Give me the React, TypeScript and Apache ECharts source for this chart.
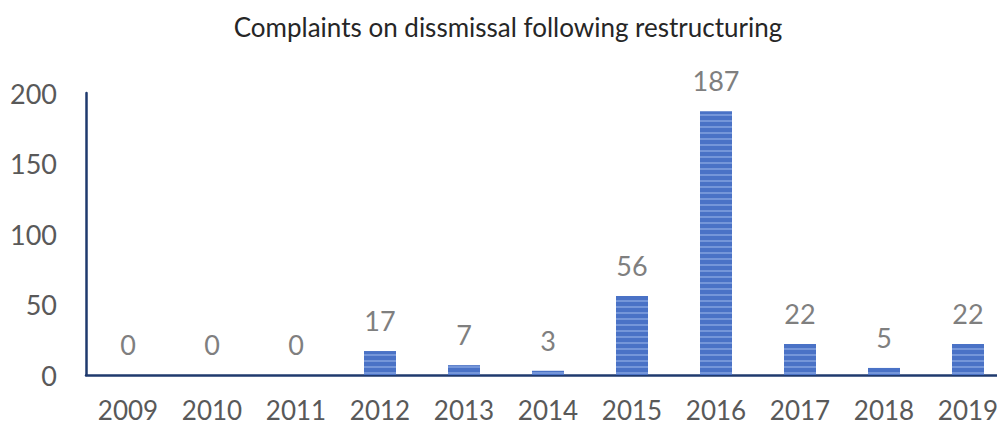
import React, { useEffect, useRef } from "react";
import * as echarts from "echarts";

const years = ["2009", "2010", "2011", "2012", "2013", "2014", "2015", "2016", "2017", "2018", "2019"];
const complaints = [0, 0, 0, 17, 7, 3, 56, 187, 22, 5, 22];
const yTicks = [0, 50, 100, 150, 200];

const FONT = "Lato, 'Open Sans', sans-serif";
const NAVY = "#1f3a6e";

export default function App() {
  const ref = useRef<HTMLDivElement>(null);

  useEffect(() => {
    if (!ref.current) return;
    const chart = echarts.init(ref.current, undefined, { renderer: "svg" });
    chart.setOption({
      animation: false,
      backgroundColor: "#ffffff",
      textStyle: { fontFamily: FONT },
      title: {
        text: "Complaints on dissmissal following restructuring",
        left: 503,
        textAlign: "center",
        top: 9,
        textStyle: { fontFamily: FONT, fontSize: 26, fontWeight: "normal", color: "#262626" },
      },
      // plot area runs slightly past the visible right edge
      grid: { left: 86, right: 0, top: 93, bottom: 52, containLabel: false },
      xAxis: {
        type: "category",
        data: years,
        axisLine: { show: true, lineStyle: { color: NAVY, width: 2.5 } },
        axisTick: { show: false },
        axisLabel: {
          color: "#595959",
          fontSize: 26,
          lineHeight: 24,
          fontFamily: FONT,
          margin: 23,
        },
      },
      yAxis: {
        type: "value",
        min: yTicks[0],
        max: yTicks[yTicks.length - 1],
        interval: 50,
        axisLine: { show: true, lineStyle: { color: NAVY, width: 2.5 } },
        axisTick: { show: false },
        splitLine: { show: false },
        axisLabel: { color: "#595959", fontSize: 27, fontFamily: FONT, margin: 29 },
      },
      series: [
        {
          type: "bar",
          data: complaints,
          barWidth: 32,
          itemStyle: {
            color: "#4a72c6",
            decal: {
              symbol: "rect",
              symbolSize: 1,
              dashArrayX: [1, 0],
              dashArrayY: [2, 4],
              color: "rgba(160,185,235,0.5)",
            },
          },
          label: {
            show: true,
            position: "top",
            distance: 17,
            color: "#7f7f7f",
            fontSize: 27,
            fontFamily: FONT,
          },
        },
      ],
    });
    return () => chart.dispose();
  }, []);

  return (
    <div
      style={{
        position: "fixed",
        left: 0,
        top: 0,
        width: 997,
        height: 427,
        overflow: "hidden",
        background: "#fff",
      }}
    >
      <div ref={ref} style={{ width: 1010, height: 427 }} />
    </div>
  );
}
